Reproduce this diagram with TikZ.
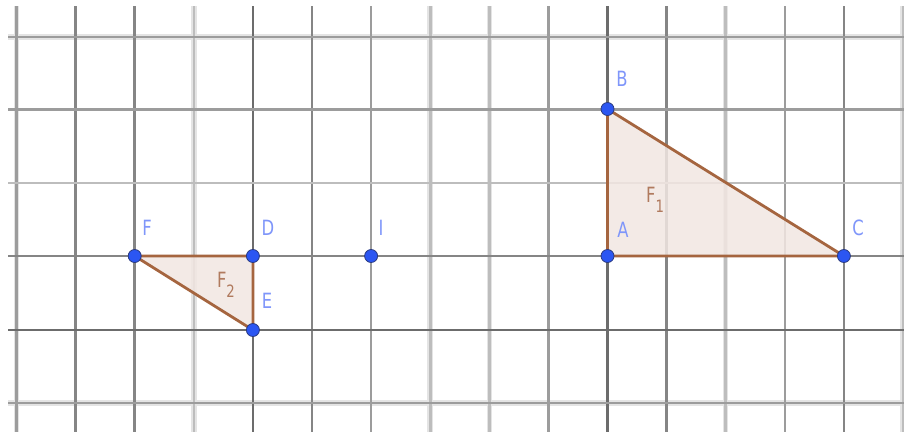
\documentclass[tikz,border=0pt]{standalone}
\usepackage{fontspec}
\newfontfamily\labfont[FakeStretch=0.78]{DejaVu Sans}
\definecolor{gA}{HTML}{6C6C6C}
\definecolor{gB}{HTML}{858585}
\definecolor{gC}{HTML}{9C9C9C}
\definecolor{gD}{HTML}{BDBDBD}
\definecolor{halo}{HTML}{E4E4E4}
\definecolor{ptblue}{HTML}{2B56F2}
\definecolor{ptedge}{HTML}{2A3A80}
\definecolor{lblblue}{HTML}{7F96FA}
\definecolor{edgebrown}{HTML}{A5653F}
\definecolor{fillbrown}{HTML}{F2E7E2}
\definecolor{flab}{HTML}{B07A5E}
\newcommand{\subl}[1]{\raisebox{-0.45em}{\fontsize{17}{17}\selectfont #1}}
\tikzset{
  gl/.style={line width=2.6pt},
  hl/.style={line width=5.5pt, color=halo},
  pt/.style={circle, fill=ptblue, draw=ptedge, line width=0.8pt, inner sep=0pt, minimum size=13pt},
  lbl/.style={text=lblblue, font=\labfont\fontsize{21}{21}\selectfont, inner sep=0pt},
  flbl/.style={text=flab, font=\labfont\fontsize{21}{21}\selectfont, inner sep=0pt},
  tri/.style={fill=fillbrown},
  edge/.style={draw=edgebrown, line width=2.8pt, line cap=round}
}
\begin{document}
\begin{tikzpicture}[x=1pt,y=-1pt]
\useasboundingbox (0,0) rectangle (904,432);
\fill[white] (0,0) rectangle (904,432);
% halos for blurry lines
\foreach \x in {16.5,193.8,430.2,489.3,725.7,903} \draw[hl] (\x,6) -- (\x,432);
\foreach \y in {37,403} \draw[hl] (8,\y) -- (904,\y);
% vertical grid lines
\foreach \x/\c in {16.5/gC,75.6/gB,134.7/gB,193.8/gD,252.9/gA,312/gB,371.1/gC,430.2/gD,489.3/gD,548.4/gC,607.5/gA,666.6/gB,725.7/gD,784.8/gC,843.9/gB,903/gD}
  \draw[gl,\c] (\x,6) -- (\x,432);
% horizontal grid lines
\foreach \y/\c in {37/gC,109.5/gC,183/gD,256/gB,330/gA,403/gC}
  \draw[gl,\c] (8,\y) -- (904,\y);
% points
\coordinate (Ac) at (607.5,256);
\coordinate (Bc) at (607.5,109);
\coordinate (Cc) at (843.9,256);
\coordinate (Fc) at (134.7,256);
\coordinate (Dc) at (252.9,256);
\coordinate (Ec) at (252.9,330);
% triangles
\fill[tri,opacity=0.85] (Ac) -- (Bc) -- (Cc) -- cycle;
\fill[tri,opacity=0.85] (Fc) -- (Dc) -- (Ec) -- cycle;
\draw[edge] (Ac) -- (Bc) -- (Cc) -- cycle;
\draw[edge] (Fc) -- (Dc) -- (Ec) -- cycle;
\node[flbl] (F1) at (655,200) {F\subl{1}};
\node[flbl] (F2) at (226,285) {F\subl{2}};
\node[pt] (A) at (Ac) {};
\node[pt] (B) at (Bc) {};
\node[pt] (C) at (Cc) {};
\node[pt] (F) at (Fc) {};
\node[pt] (D) at (Dc) {};
\node[pt] (E) at (Ec) {};
\node[pt] (I) at (371.1,256) {};
% labels
\node[lbl] (lB) at (622,79) {B};
\node[lbl] (lA) at (623,230) {A};
\node[lbl] (lC) at (858,228) {C};
\node[lbl] (lF) at (147,228) {F};
\node[lbl] (lD) at (268,228) {D};
\node[lbl] (lI) at (381,228) {I};
\node[lbl] (lE) at (267,301) {E};
\end{tikzpicture}
\end{document}
